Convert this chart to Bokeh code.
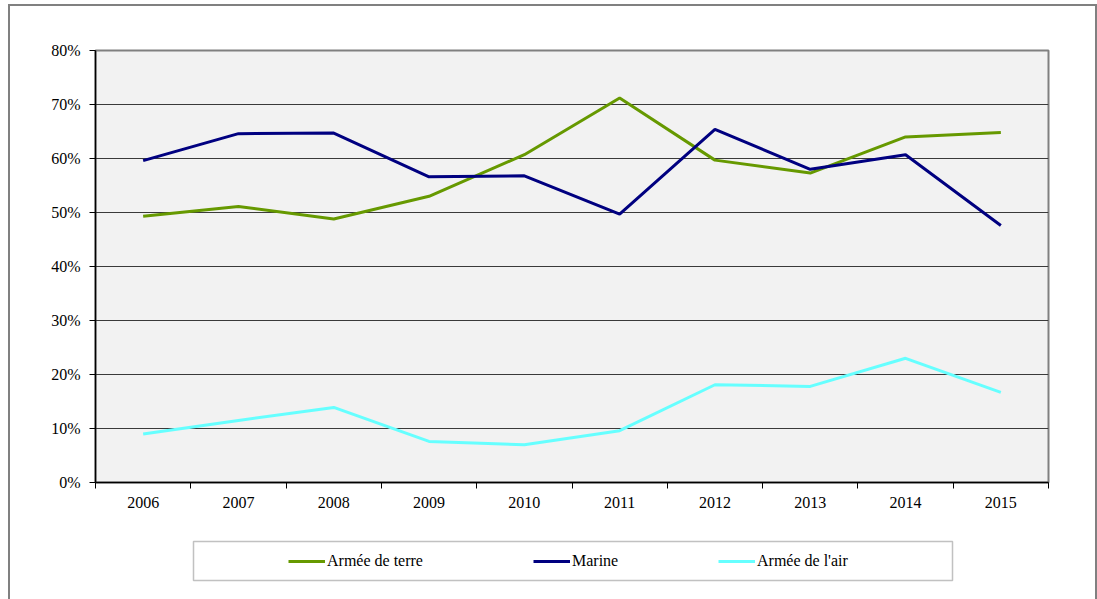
from bokeh.plotting import figure
from bokeh.layouts import column
from bokeh.models import Range1d, FixedTicker, PrintfTickFormatter, Legend, LegendItem, BoxAnnotation
from bokeh.embed import file_html
from bokeh.resources import INLINE

years = [2006, 2007, 2008, 2009, 2010, 2011, 2012, 2013, 2014, 2015]
terre = [49.3, 51.1, 48.8, 53.0, 60.7, 71.2, 59.7, 57.3, 64.0, 64.8]
marine = [59.6, 64.6, 64.7, 56.6, 56.8, 49.7, 65.4, 58.0, 60.7, 47.6]
air = [9.0, 11.5, 13.9, 7.6, 7.0, 9.6, 18.1, 17.8, 23.0, 16.7]
series_names = ["Armée de terre", "Marine", "Armée de l'air"]
series_colors = ["#669900", "#000080", "#66ffff"]
y_ticks = [0, 10, 20, 30, 40, 50, 60, 70, 80]

FONT = "Liberation Serif"
W = 1085

p = figure(width=W, height=524, output_backend="svg", toolbar_location=None,
           x_range=Range1d(2005.5, 2015.5), y_range=Range1d(0, 80),
           min_border_left=85, min_border_right=47, min_border_top=44, min_border_bottom=48,
           background_fill_color="#f2f2f2", border_fill_color="white")

p.outline_line_color = "#808080"
p.outline_line_width = 2

# y axis
p.yaxis.ticker = FixedTicker(ticks=y_ticks)
p.yaxis.formatter = PrintfTickFormatter(format="%d%%")
p.yaxis.axis_line_color = "black"
p.yaxis.axis_line_width = 1.5
p.yaxis.major_tick_line_color = "black"
p.yaxis.major_tick_out = 6
p.yaxis.major_tick_in = 0
p.yaxis.minor_tick_line_color = None
p.yaxis.major_label_text_font = FONT
p.yaxis.major_label_text_font_size = "16px"
p.yaxis.major_label_text_color = "black"
p.yaxis.major_label_standoff = 9

# x axis: labels on the years, tick marks between them
half = [y - 0.5 for y in years] + [years[-1] + 0.5]
p.xaxis.ticker = FixedTicker(ticks=years, minor_ticks=half)
p.xaxis.axis_line_color = "black"
p.xaxis.axis_line_width = 1.5
p.xaxis.major_tick_line_color = None
p.xaxis.major_tick_out = 6
p.xaxis.minor_tick_line_color = "black"
p.xaxis.minor_tick_out = 6
p.xaxis.minor_tick_in = 0
p.xaxis.major_label_text_font = FONT
p.xaxis.major_label_text_font_size = "16px"
p.xaxis.major_label_text_color = "black"
p.xaxis.major_label_standoff = 8

p.xgrid.grid_line_color = None
p.ygrid.ticker = FixedTicker(ticks=y_ticks)
p.ygrid.grid_line_color = "#3a3a3a"
p.ygrid.grid_line_width = 1

for vals, c in zip([terre, marine, air], series_colors):
    p.line(years, vals, line_color=c, line_width=3)

# legend strip below (same horizontal frame as the chart)
pl = figure(width=W, height=69, output_backend="svg", toolbar_location=None,
            x_range=p.x_range, y_range=Range1d(200, 300),
            x_axis_location=None, y_axis_location=None,
            min_border_left=85, min_border_right=47, min_border_top=9, min_border_bottom=17,
            background_fill_color="white", border_fill_color="white")
pl.grid.visible = False
pl.outline_line_color = None

pl.add_layout(BoxAnnotation(left=98, right=857, top=2, bottom=41,
                            left_units="screen", right_units="screen",
                            top_units="screen", bottom_units="screen",
                            fill_alpha=0, line_color="#333333", line_width=1.5))

leg_x = [193, 438, 623]
for name, vals, c, lx in zip(series_names, [terre, marine, air], series_colors, leg_x):
    r = pl.line(years, vals, line_color=c, line_width=3)
    lg = Legend(items=[LegendItem(label=name, renderers=[r])], location=(lx, 11),
                orientation="horizontal", padding=0, margin=0, spacing=0,
                glyph_width=37, glyph_height=20, label_standoff=2,
                border_line_alpha=0, background_fill_alpha=0,
                label_text_font=FONT, label_text_font_size="16px",
                label_text_color="black")
    pl.add_layout(lg, "center")

layout = column(p, pl, spacing=0,
                styles={"border-left": "2px solid #808080", "border-top": "2px solid #808080",
                        "border-right": "2px solid #808080", "margin-left": "8px",
                        "margin-top": "4px"})

open("out.html", "w").write(file_html(layout, INLINE))
